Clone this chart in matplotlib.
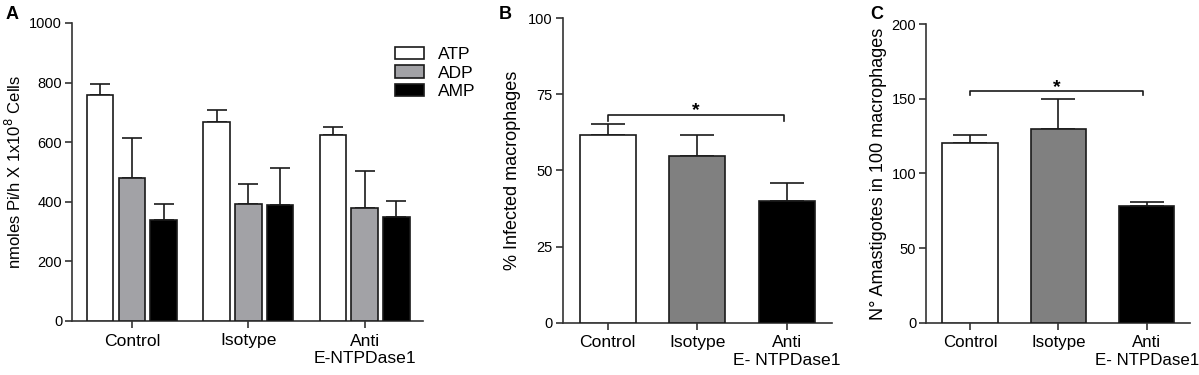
import matplotlib.pyplot as plt
import numpy as np
from matplotlib.patches import Patch

plt.rcParams["font.family"] = ["Liberation Sans", "DejaVu Sans"]

# panel A data
groups_a = ["Control", "Isotype", "Anti\nE-NTPDase1"]
nucleotides = ["ATP", "ADP", "AMP"]
atp_mean = [758, 668, 624]
atp_err = [37, 40, 27]
adp_mean = [480, 392, 379]
adp_err = [134, 68, 124]
amp_mean = [339, 389, 349]
amp_err = [53, 124, 53]

# panel B data
groups_bc = ["Control", "Isotype", "Anti\nE- NTPDase1"]
infected_mean = [61.5, 54.8, 39.9]
infected_err = [3.8, 6.8, 6.1]

# panel C data
amastigote_mean = [120.7, 129.9, 78.0]
amastigote_err = [4.9, 20.1, 3.1]

EDGE = "#1a1a1a"
AXC = "#333333"


def style_axis(ax, xsize=12.6):
    for side in ("top", "right"):
        ax.spines[side].set_visible(False)
    for side in ("left", "bottom"):
        ax.spines[side].set_color(AXC)
        ax.spines[side].set_linewidth(1.2)
    ax.tick_params(axis="both", colors=AXC, width=1.2, length=5, direction="out")
    ax.tick_params(axis="y", labelsize=10.5, labelcolor="black", pad=2)
    ax.tick_params(axis="x", labelsize=xsize, labelcolor="black", pad=4)


def bars_with_err(ax, x, mean, err, color, width, capsize):
    ax.bar(x, mean, width=width, color=color, edgecolor=EDGE, linewidth=1.2, zorder=3)
    ax.errorbar(x, mean, yerr=[np.zeros(len(mean)), err], fmt="none", ecolor=EDGE,
                elinewidth=1.2, capsize=capsize, capthick=1.2, zorder=2)


def bracket(ax, x0, x1, y, drop, star_y):
    ax.plot([x0, x0, x1, x1], [y - drop, y, y, y - drop], color=EDGE, lw=1.2, zorder=4)
    ax.text((x0 + x1) / 2, star_y, "*", ha="center", va="center", fontsize=14, fontweight="bold")


fig = plt.figure(figsize=(11.99, 3.75), dpi=100)

# ---- A ----
ax_a = fig.add_axes([0.0600, 0.144, 0.2927, 0.7947])
x = np.arange(len(groups_a))
off = 0.272
w = 0.228
bars_with_err(ax_a, x - off, atp_mean, atp_err, "white", w, 7)
bars_with_err(ax_a, x, adp_mean, adp_err, "#a2a2a6", w, 7)
bars_with_err(ax_a, x + off, amp_mean, amp_err, "black", w, 7)
ax_a.set_xlim(-0.515, 2.5)
ax_a.set_ylim(0, 1000)
ax_a.set_yticks(np.arange(0, 1001, 200))
ax_a.set_xticks(x)
ax_a.set_xticklabels(groups_a, linespacing=1.2)
ax_a.set_ylabel("nmoles Pi/h X 1x10$^8$ Cells", fontsize=12, labelpad=4)
style_axis(ax_a)

handles = [Patch(facecolor=c, edgecolor=EDGE, linewidth=1.2) for c in ("white", "#a2a2a6", "black")]
ax_a.legend(handles, nucleotides, loc="upper left", bbox_to_anchor=(0.9, 0.942), frameon=False,
            fontsize=12.5, handlelength=1.7, handleheight=0.7, handletextpad=0.8, labelspacing=0.18,
            borderaxespad=0)

# ---- B ----
ax_b = fig.add_axes([0.4693, 0.1395, 0.2244, 0.8117])
xb = np.arange(len(groups_bc))
bars_with_err(ax_b, xb, infected_mean, infected_err, ["white", "#808080", "black"], 0.624, 12)
ax_b.set_xlim(-0.502, 2.497)
ax_b.set_ylim(0, 100)
ax_b.set_yticks(np.arange(0, 101, 25))
ax_b.set_xticks(xb)
ax_b.set_xticklabels(groups_bc, linespacing=1.2)
ax_b.set_ylabel("% Infected macrophages", fontsize=13, labelpad=5)
style_axis(ax_b)
bracket(ax_b, 0.0, 1.96, 68.3, 1.9, 69.6)

# ---- C ----
ax_c = fig.add_axes([0.7723, 0.1395, 0.2202, 0.7957])
bars_with_err(ax_c, xb, amastigote_mean, amastigote_err, ["white", "#808080", "black"], 0.623, 12)
ax_c.set_xlim(-0.498, 2.49)
ax_c.set_ylim(0, 200)
ax_c.set_yticks(np.arange(0, 201, 50))
ax_c.set_xticks(xb)
ax_c.set_xticklabels(groups_bc, linespacing=1.2)
ax_c.set_ylabel("N° Amastigotes in 100 macrophages", fontsize=13, labelpad=3)
style_axis(ax_c, xsize=12.2)
bracket(ax_c, 0.0, 1.96, 155.3, 3.0, 157.8)

# panel letters
for letter, xp in (("A", 0.005), ("B", 0.416), ("C", 0.726)):
    fig.text(xp, 0.985, letter, fontsize=13, fontweight="bold", va="top", ha="left")

fig.savefig("out.png", dpi=100)
